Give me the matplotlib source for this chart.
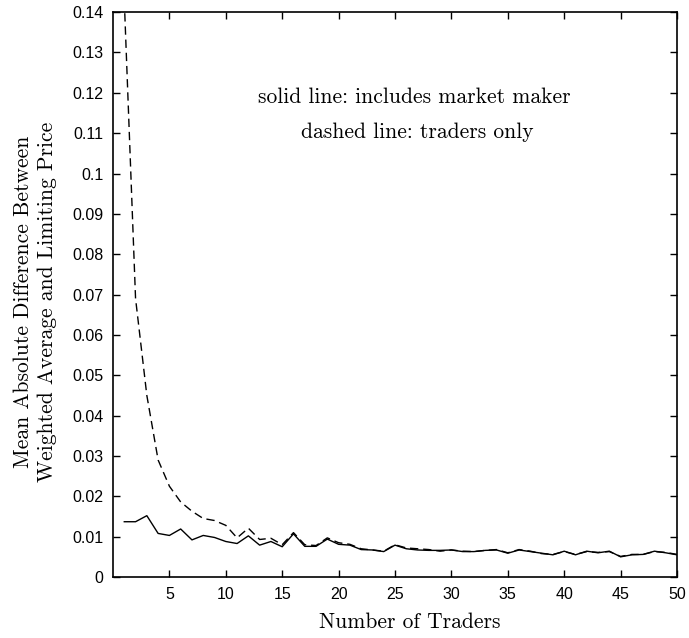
import matplotlib
matplotlib.use('Agg')
import matplotlib.pyplot as plt
import numpy as np

traders = np.arange(1, 51)

# solid line: includes market maker
with_mm = [0.0137, 0.0137, 0.0152, 0.0108, 0.0103, 0.0119, 0.0092, 0.0103, 0.0098, 0.0088,
           0.0083, 0.0102, 0.0079, 0.0088, 0.0075, 0.0107, 0.0076, 0.0076, 0.0094, 0.0081,
           0.0079, 0.0068, 0.0067, 0.0063, 0.0079, 0.0070, 0.0067, 0.0066, 0.0066, 0.0067,
           0.0063, 0.0063, 0.0066, 0.0067, 0.0059, 0.0067, 0.0063, 0.0059, 0.0055, 0.0064,
           0.0055, 0.0064, 0.0060, 0.0064, 0.0050, 0.0055, 0.0056, 0.0064, 0.0060, 0.0055]

# dashed line: traders only
traders_only = [0.143, 0.069, 0.045, 0.029, 0.0225, 0.0186, 0.0163, 0.0145, 0.0140, 0.0128,
                0.0097, 0.0121, 0.0093, 0.0096, 0.0080, 0.0110, 0.0080, 0.0078, 0.0097, 0.0085,
                0.0081, 0.0070, 0.0067, 0.0064, 0.0080, 0.0072, 0.0070, 0.0068, 0.0064, 0.0067,
                0.0064, 0.0063, 0.0066, 0.0068, 0.0060, 0.0068, 0.0064, 0.0058, 0.0056, 0.0063,
                0.0056, 0.0063, 0.0061, 0.0063, 0.0051, 0.0056, 0.0056, 0.0063, 0.0061, 0.0056]

y_ticks = [0, 0.01, 0.02, 0.03, 0.04, 0.05, 0.06, 0.07, 0.08, 0.09, 0.1, 0.11, 0.12, 0.13, 0.14]
y_tick_labels = ['0', '0.01', '0.02', '0.03', '0.04', '0.05', '0.06', '0.07', '0.08',
                 '0.09', '0.1', '0.11', '0.12', '0.13', '0.14']
x_ticks = [5, 10, 15, 20, 25, 30, 35, 40, 45, 50]

serif = ['cmr10', 'DejaVu Serif']

fig = plt.figure(figsize=(6.89, 6.38), dpi=100)
ax = fig.add_axes([0.164, 0.0956, 0.8186, 0.8854])

ax.plot(traders, with_mm, color='black', linewidth=1.0)
ax.plot(traders, traders_only, color='black', linewidth=1.0, linestyle=(0, (6, 3.5)))

ax.set_xlim(0, 50)
ax.set_ylim(0, 0.14)
ax.set_xticks(x_ticks)
ax.set_xticklabels([str(t) for t in x_ticks], family='Liberation Sans', fontsize=11.5)
ax.set_yticks(y_ticks)
ax.set_yticklabels(y_tick_labels, family='Liberation Sans', fontsize=11.5)
ax.tick_params(direction='in', top=True, right=True, length=5, width=1.0, pad=7)
for s in ax.spines.values():
    s.set_linewidth(1.2)

ax.set_xlabel('Number of Traders', family=serif, fontsize=15.5)
ax.xaxis.set_label_coords(0.527, -0.062)
ax.set_ylabel('Mean Absolute Difference Between\nWeighted Average and Limiting Price',
              family=serif, fontsize=15.5, linespacing=1.25, va='center')
ax.yaxis.set_label_coords(-0.138, 0.487)

ax.text(0.534, 0.85, 'solid line: includes market maker', transform=ax.transAxes,
        family=serif, fontsize=15.5, ha='center', va='center')
ax.text(0.539, 0.788, 'dashed line: traders only', transform=ax.transAxes,
        family=serif, fontsize=15.5, ha='center', va='center')

fig.savefig('out.png', dpi=100)
